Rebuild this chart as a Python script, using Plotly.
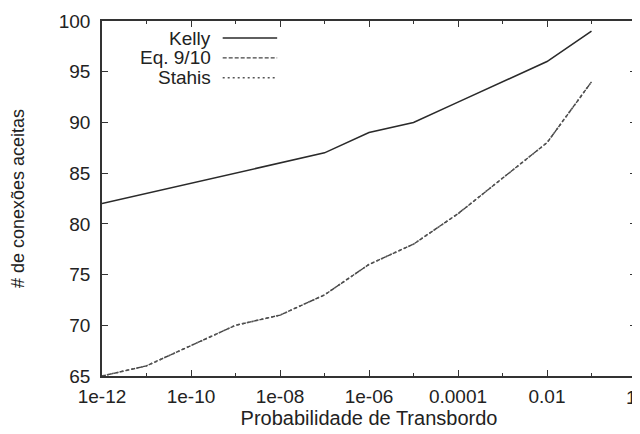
import plotly.graph_objects as go

prob = [1e-12, 1e-11, 1e-10, 1e-9, 1e-8, 1e-7, 1e-6, 1e-5, 1e-4, 1e-3, 1e-2, 1e-1]
kelly = [82, 83, 84, 85, 86, 87, 89, 90, 92, 94, 96, 99]
eq910 = [65, 66, 68, 70, 71, 73, 76, 78, 81, 84.5, 88, 94]
stahis = [65, 66, 68, 70, 71, 73, 76, 78, 81, 84.5, 88, 94]

names = ["Kelly", "Eq. 9/10", "Stahis"]
xtickvals = [1e-12, 1e-10, 1e-8, 1e-6, 1e-4, 1e-2, 1]
xticktext = ["1e-12", "1e-10", "1e-08", "1e-06", "0.0001", "0.01", "1"]
xminor = [1e-11, 1e-9, 1e-7, 1e-5, 1e-3, 1e-1]
ytickvals = [65, 70, 75, 80, 85, 90, 95, 100]

FONT = "Liberation Sans, Arial, sans-serif"

styles = [
    dict(color="#2a2a2a", width=1.6, dash="solid"),
    dict(color="#444444", width=1.4, dash="4px,2px"),
    dict(color="#555555", width=1.6, dash="2px,3px"),
]

fig = go.Figure()
for nm, ys, st in zip(names, [kelly, eq910, stahis], styles):
    fig.add_trace(go.Scatter(x=prob, y=ys, mode="lines", name=nm, line=st, showlegend=False))

# custom legend (text right-aligned, sample line to the right)
rows = [0.952, 0.896, 0.840]
for nm, st, yy in zip(names, styles, rows):
    fig.add_annotation(xref="paper", yref="paper", x=0.207, y=yy, text=nm, showarrow=False,
                       xanchor="right", yanchor="middle",
                       font=dict(family=FONT, size=19, color="#222"))
    fig.add_shape(type="line", xref="paper", yref="paper", x0=0.226, x1=0.328, y0=yy, y1=yy,
                  line=st)

axis_font = dict(family=FONT, size=19, color="#222")

# last tick label ("1") sits at the right edge of the page
fig.add_annotation(xref="paper", yref="paper", x=1.0, y=0, yshift=-21, xshift=3, text=xticktext[-1],
                   showarrow=False, xanchor="right", yanchor="middle", font=axis_font)

fig.update_xaxes(type="log", range=[-12, 0], tickvals=xtickvals[:-1], ticktext=xticktext[:-1],
                 ticks="inside", ticklen=6, tickwidth=1, tickcolor="#333",
                 minor=dict(tickvals=xminor, ticks="inside", ticklen=3, tickcolor="#333"),
                 showline=True, linecolor="#333", linewidth=1.5, mirror="ticks",
                 showgrid=False, zeroline=False, tickfont=axis_font, automargin=False,
                 ticklabelstandoff=2,
                 title=dict(text="Probabilidade de Transbordo", font=dict(family=FONT, size=20, color="#222"), standoff=5))
fig.update_yaxes(range=[65, 100], tickvals=ytickvals,
                 ticks="inside", ticklen=6, tickwidth=1, tickcolor="#333",
                 showline=True, linecolor="#333", linewidth=1.5, mirror="ticks",
                 showgrid=False, zeroline=False, tickfont=axis_font, automargin=False,
                 ticklabelstandoff=6,
                 title=dict(text="# de conexões aceitas", font=dict(family=FONT, size=18, color="#222"), standoff=30))

fig.update_layout(width=632, height=426, margin=dict(l=94, r=4, t=13, b=58),
                  plot_bgcolor="white", paper_bgcolor="white", showlegend=False)

fig.write_html("out.html")
